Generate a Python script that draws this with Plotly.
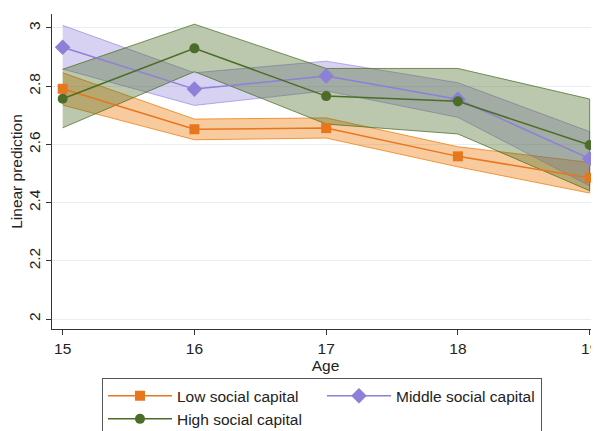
import plotly.graph_objects as go

ages = [15, 16, 17, 18, 19]

low_mean = [2.791, 2.652, 2.656, 2.559, 2.485]
low_upper = [2.846, 2.687, 2.691, 2.592, 2.538]
low_lower = [2.735, 2.616, 2.622, 2.523, 2.433]

mid_mean = [2.934, 2.790, 2.835, 2.755, 2.551]
mid_upper = [3.009, 2.846, 2.886, 2.812, 2.644]
mid_lower = [2.859, 2.734, 2.784, 2.693, 2.458]

high_mean = [2.757, 2.930, 2.766, 2.748, 2.598]
high_upper = [2.858, 3.013, 2.861, 2.861, 2.756]
high_lower = [2.657, 2.850, 2.670, 2.636, 2.441]

series_names = ["Low social capital", "Middle social capital", "High social capital"]
y_ticks = [2, 2.2, 2.4, 2.6, 2.8, 3]
y_tick_text = ["2", "2.2", "2.4", "2.6", "2.8", "3"]

series = [
    (series_names[0], low_mean, low_upper, low_lower,
     "#e8761c", "rgba(240,140,40,0.45)", "rgba(240,140,40,0.9)", "square", 10),
    (series_names[1], mid_mean, mid_upper, mid_lower,
     "#8c80d8", "rgba(140,125,215,0.35)", "rgba(140,125,215,0.6)", "diamond", 12),
    (series_names[2], high_mean, high_upper, high_lower,
     "#4b6d27", "rgba(75,110,40,0.38)", "rgba(75,110,40,0.75)", "circle", 10),
]

fig = go.Figure()

# CI bands
for name, mean, up, lo, col, fillc, edgec, sym, msz in series:
    fig.add_trace(go.Scatter(
        x=ages + ages[::-1], y=up + lo[::-1],
        fill="toself", fillcolor=fillc,
        mode="lines", line=dict(color=edgec, width=1),
        hoverinfo="skip", showlegend=False,
    ))

# Lines
for name, mean, up, lo, col, fillc, edgec, sym, msz in series:
    fig.add_trace(go.Scatter(
        x=ages, y=mean, name=name,
        mode="lines+markers",
        line=dict(color=col, width=1.5),
        marker=dict(symbol=sym, size=msz, color=col),
    ))

# page body has an 8px default margin: figure is sized to fit the window
fig.update_layout(
    width=591, height=423,
    margin=dict(l=44, r=0, t=6, b=102, autoexpand=False),
    paper_bgcolor="white", plot_bgcolor="white",
    font=dict(family="Liberation Sans, Arial, sans-serif", size=15.5, color="#222"),
    legend=dict(
        orientation="h",
        xref="container", yref="container",
        x=0.159, y=0.125, xanchor="left", yanchor="top",
        bordercolor="#555", borderwidth=1,
        entrywidth=140, entrywidthmode="pixels",
        itemwidth=64,
        font=dict(size=15.5),
        traceorder="normal",
        tracegroupgap=0,
    ),
    showlegend=True,
)

fig.update_xaxes(
    range=[14.919, 19.071],
    tickvals=ages, ticktext=[str(a) for a in ages],
    showgrid=False, zeroline=False, automargin=False,
    showline=True, linecolor="#333", linewidth=1.3,
    ticks="outside", ticklen=5, tickcolor="#333",
    title=dict(text="Age", standoff=0, font=dict(size=15.5)),
)
fig.update_yaxes(
    range=[1.966, 3.048],
    tickvals=y_ticks, ticktext=y_tick_text, tickangle=-90,
    showgrid=True, gridcolor="#e6eff1", gridwidth=1,
    zeroline=False, automargin=False,
    showline=True, linecolor="#333", linewidth=1.3,
    ticks="outside", ticklen=5, tickcolor="#333",
    title=dict(text="Linear prediction", standoff=0, font=dict(size=15.5)),
)

fig.write_html("out.html")
